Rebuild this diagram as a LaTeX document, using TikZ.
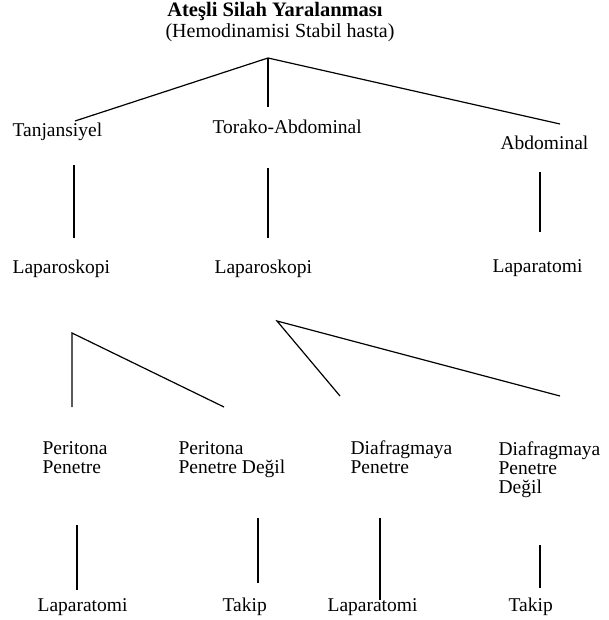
\documentclass[tikz,border=0pt]{standalone}
\usepackage{fontspec}
\setmainfont{Liberation Serif}
\begin{document}
\begin{tikzpicture}[x=1pt,y=-1pt,line width=1.2pt,
        every node/.style={inner sep=0pt,anchor=base west,align=left,
            font=\fontsize{19.5}{19}\selectfont}]
        \useasboundingbox (0,0) rectangle (609,620);
        % baslik
        \node[anchor=base,font=\fontsize{20.5}{20}\selectfont] (baslik) at (275,17) {\textbf{Ateşli Silah Yaralanması}};
        \node[anchor=base,font=\fontsize{20}{20}\selectfont] (alt) at (280,37.5) {(Hemodinamisi Stabil hasta)};
        % birinci seviye
        \node (tanj) at (12,137) {Tanjansiyel};
        \node (torako) at (212,134) {Torako-Abdominal};
        \node (abd) at (500,150) {Abdominal};
        % ikinci seviye
        \node (lap1) at (12,273) {Laparoskopi};
        \node (lap2) at (214,273) {Laparoskopi};
        \node (lpt) at (492,272) {Laparatomi};
        % ucuncu seviye (base = son satir)
        \node (pp) at (42,473) {Peritona\\Penetre};
        \node (ppd) at (178,473) {Peritona\\Penetre Değil};
        \node (dp) at (350,473) {Diafragmaya\\Penetre};
        \node (dpd) at (498,493) {Diafragmaya\\Penetre\\Değil};
        % son seviye
        \node (son1) at (37,611) {Laparatomi};
        \node (son2) at (222,611) {Takip};
        \node (son3) at (327,611) {Laparatomi};
        \node (son4) at (508,611) {Takip};
        % baglantilar
        \coordinate (k0) at (268,58);
        \coordinate (k1) at (75,121);
        \coordinate (k2) at (268,107);
        \coordinate (k3) at (560,124);
        \draw (k1) -- (k0) -- (k3);
        \draw (k0) -- (k2);
        \draw (74,165) coordinate (a1) -- (74,238) coordinate (b1);
        \draw (268,168) coordinate (a2) -- (268,238) coordinate (b2);
        \draw (540,172) coordinate (a3) -- (540,232) coordinate (b3);
        \coordinate (m1) at (72,333);
        \draw (72,407) -- (m1) -- (224,407);
        \coordinate (m2) at (277,321);
        \draw (340,396) -- (m2) -- (560,396);
        \draw (77,525) coordinate (c1) -- (77,590) coordinate (d1);
        \draw (258,518) coordinate (c2) -- (258,583) coordinate (d2);
        \draw (380,518) coordinate (c3) -- (380,600) coordinate (d3);
        \draw (540,545) coordinate (c4) -- (540,588) coordinate (d4);
\end{tikzpicture}
\end{document}
